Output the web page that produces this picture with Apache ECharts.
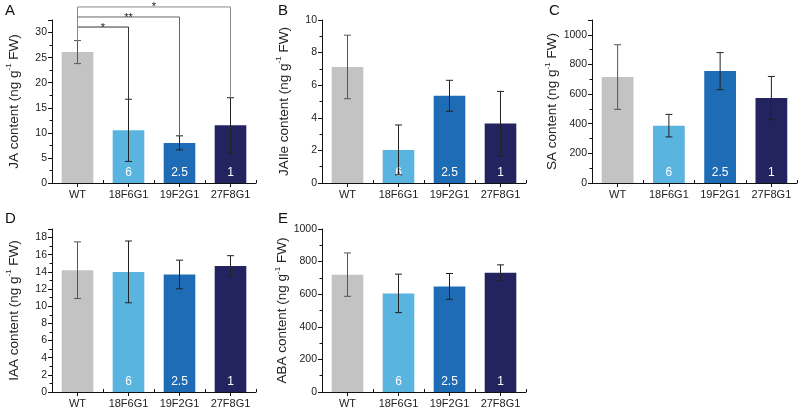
<!DOCTYPE html>
<html><head><meta charset="utf-8">
<script src="https://cdn.jsdelivr.net/npm/echarts@6/dist/echarts.min.js"></script>
<style>html,body{margin:0;padding:0;background:#fff}#c{width:800px;height:411px}</style>
</head><body><div id="c"></div>
<script>
const categories = ['WT', '18F6G1', '19F2G1', '27F8G1'];
const barTexts = ['', '6', '2.5', '1'];
const barColors = ['#c3c3c3', '#5ab4e0', '#1e6cb6', '#23235f'];

const jaMean = [26.1, 10.5, 8.0, 11.5];
const jaErr = [2.3, 6.2, 1.4, 5.5];
const jaileMean = [7.12, 2.03, 5.35, 3.65];
const jaileErr = [1.95, 1.53, 0.95, 1.97];
const saMean = [715, 387, 755, 573];
const saErr = [218, 76, 125, 146];
const iaaMean = [14.2, 14.0, 13.7, 14.7];
const iaaErr = [3.3, 3.6, 1.67, 1.19];
const abaMean = [720, 605, 648, 731];
const abaErr = [133, 118, 79, 49];

// significance brackets for panel A (target category index, bracket level in data units, mark)
const sigTargets = [1, 2, 3];
const sigLevels = [31.1, 33.1, 35.1];
const sigMarks = ['*', '**', '*'];
const sigColors = ['#333', '#666', '#888'];

const panels = [
  {letter: 'A', name: 'JA', mean: jaMean, err: jaErr, max: 32.5, interval: 5, grid: {left: 52, top: 20, width: 204, height: 163}},
  {letter: 'B', name: 'JAIle', mean: jaileMean, err: jaileErr, max: 10, interval: 2, grid: {left: 322, top: 20, width: 204, height: 163}},
  {letter: 'C', name: 'SA', mean: saMean, err: saErr, max: 1100, interval: 200, grid: {left: 592, top: 20, width: 205, height: 163}},
  {letter: 'D', name: 'IAA', mean: iaaMean, err: iaaErr, max: 19, interval: 2, grid: {left: 52, top: 229, width: 204, height: 163}},
  {letter: 'E', name: 'ABA', mean: abaMean, err: abaErr, max: 1000, interval: 200, grid: {left: 322, top: 229, width: 204, height: 163}}
];
const letterPos = [[5, 3], [278, 3], [549, 3], [5, 211], [278, 211]];

const font = 'Liberation Sans, Arial, sans-serif';
const grids = [], xAxes = [], yAxes = [], series = [], titles = [];

panels.forEach((p, k) => {
  grids.push(p.grid);
  titles.push({text: p.letter, left: letterPos[k][0], top: letterPos[k][1], padding: 0,
    textStyle: {fontSize: 15, fontWeight: 'normal', color: '#111', fontFamily: font}});
  xAxes.push({
    type: 'category', gridIndex: k, data: categories,
    axisLine: {lineStyle: {color: '#111', width: 1}},
    axisTick: {show: true, alignWithLabel: true, length: 4, lineStyle: {color: '#111'}},
    axisLabel: {color: '#222', fontSize: 11, fontFamily: font, margin: 6, interval: 0}
  });
  yAxes.push({
    type: 'value', gridIndex: k, min: 0, max: p.max, interval: p.interval,
    name: '{a|' + p.name + ' content (ng g}{s|-1}{a| FW)}',
    nameLocation: 'middle', nameGap: 31,
    nameTextStyle: {rich: {
      a: {fontSize: 13.5, fontFamily: font, color: '#222', lineHeight: 16, verticalAlign: 'bottom'},
      s: {fontSize: 8, fontFamily: font, color: '#222', lineHeight: 16, verticalAlign: 'top', padding: [0, 0, 4, 0]}
    }},
    axisLine: {show: true, lineStyle: {color: '#111', width: 1}},
    axisTick: {show: true, length: 4, lineStyle: {color: '#111'}},
    minorTick: {show: true, splitNumber: 2, length: 2.5, lineStyle: {color: '#111'}},
    splitLine: {show: false},
    axisLabel: {color: '#222', fontSize: 10.5, fontFamily: font, margin: 5,
      showMaxLabel: p.max % p.interval === 0, formatter: v => String(v)}
  });
  series.push({
    type: 'bar', xAxisIndex: k, yAxisIndex: k, barWidth: '62%',
    data: p.mean.map((v, i) => ({
      value: v, itemStyle: {color: barColors[i]},
      label: {show: barTexts[i] !== '', formatter: barTexts[i], position: 'insideBottom', distance: 4,
        color: '#fff', fontSize: 12, fontFamily: font}
    })),
    z: 2
  });
  series.push({
    type: 'custom', xAxisIndex: k, yAxisIndex: k, z: 3,
    data: p.mean.map((v, i) => [i, v, p.err[i]]),
    encode: {x: 0, y: 1},
    renderItem: function (params, api) {
      const i = api.value(0), m = api.value(1), e = api.value(2);
      const t = api.coord([i, m + e]);
      const b = api.coord([i, m - e]);
      const hw = 3.5;
      const col = i === 0 ? '#555' : '#222';
      const st = {stroke: col, lineWidth: 1};
      return {type: 'group', children: [
        {type: 'line', shape: {x1: t[0], y1: t[1], x2: b[0], y2: b[1]}, style: st},
        {type: 'line', shape: {x1: t[0] - hw, y1: t[1], x2: t[0] + hw, y2: t[1]}, style: st},
        {type: 'line', shape: {x1: b[0] - hw, y1: b[1], x2: b[0] + hw, y2: b[1]}, style: st}
      ]};
    }
  });
});

// secondary x axes: small inward ticks at category boundaries
panels.forEach((p, k) => {
  xAxes.push({
    type: 'category', gridIndex: k, data: categories, position: 'bottom',
    axisLine: {show: false},
    axisTick: {show: true, inside: true, interval: 0, length: 3, lineStyle: {color: '#111'}},
    axisLabel: {show: false}
  });
});

// significance brackets on panel A
series.push({
  type: 'custom', xAxisIndex: 0, yAxisIndex: 0, clip: false, z: 4,
  data: sigTargets.map((t, j) => [t, sigLevels[j], j]),
  encode: {x: 0, y: 1},
  renderItem: function (params, api) {
    const t = api.value(0), lev = api.value(1), j = api.value(2);
    const wtTop = api.coord([0, jaMean[0] + jaErr[0]]);
    const a = api.coord([0, lev]);
    const b = api.coord([t, lev]);
    const tgt = api.coord([t, jaMean[t] + jaErr[t]]);
    const st = {stroke: sigColors[j], lineWidth: 1};
    return {type: 'group', children: [
      {type: 'line', shape: {x1: wtTop[0], y1: wtTop[1], x2: a[0], y2: a[1]}, style: {stroke: '#888', lineWidth: 1}},
      {type: 'line', shape: {x1: a[0], y1: a[1], x2: b[0], y2: b[1]}, style: st},
      {type: 'line', shape: {x1: b[0], y1: b[1], x2: tgt[0], y2: tgt[1]}, style: st},
      {type: 'text', x: (a[0] + b[0]) / 2, y: a[1] + 6,
        style: {text: sigMarks[j], fill: '#222', fontSize: 11, fontFamily: font, align: 'center', verticalAlign: 'bottom'}}
    ]};
  }
});

const chart = echarts.init(document.getElementById('c'), null, {renderer: 'canvas'});
chart.setOption({
  animation: false,
  backgroundColor: '#fff',
  title: titles,
  grid: grids,
  xAxis: xAxes,
  yAxis: yAxes,
  series: series
});
</script></body></html>
